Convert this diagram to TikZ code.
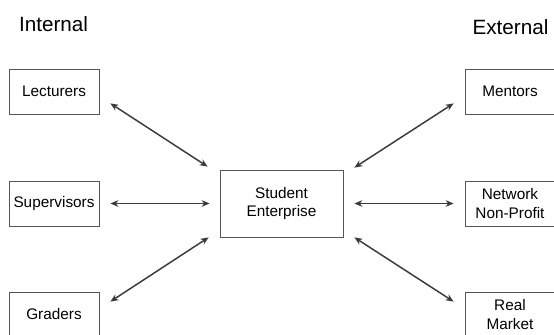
\documentclass[tikz,border=0pt]{standalone}
\usepackage{fontspec}
\setmainfont{Liberation Sans}
\usetikzlibrary{arrows.meta}

\definecolor{linegray}{RGB}{58,58,58}
\definecolor{boxgray}{RGB}{85,85,85}

\tikzset{every picture/.style={line width=0.75pt}}
\tikzset{
  actorbox/.style={draw=boxgray, line width=0.6pt, minimum width=67.5pt, minimum height=33.75pt, inner sep=0.75pt, align=center, font=\fontsize{11.5}{14}\selectfont},
  hubbox/.style={actorbox, minimum width=92.25pt, minimum height=50.25pt},
  sidelabel/.style={anchor=base, inner sep=0pt, font=\fontsize{15.5}{18}\selectfont},
  twoway/.style={draw=linegray, line width=1.1pt, {Stealth[length=6pt,width=5pt]}-{Stealth[length=6pt,width=5pt]}}
}

\begin{document}
\begin{tikzpicture}[x=0.75pt,y=0.75pt,yscale=-1,xscale=1]
	\useasboundingbox (0,0) rectangle (554,335);
	
	% Text Node
	\draw (53.5,32) node [sidelabel] (internal) {Internal};
	% Text Node
	\draw (510.5,35) node [sidelabel] (external) {External};
	
	%Shape: Rectangle [internal side]
	\draw (54,91.5) node [actorbox] (lect) {Lecturers};
	\draw (54,203.5) node [actorbox] (sup) {Supervisors};
	\draw (54,314.5) node [actorbox] (grad) {Graders};
	
	%Shape: Rectangle [centre]
	\draw (281.5,203.5) node [hubbox] (ent) {Student\\Enterprise};
	
	%Shape: Rectangle [external side]
	\draw (510,91.5) node [actorbox] (ment) {Mentors};
	\draw (510,203.5) node [actorbox] (net) {Network\\Non-Profit};
	\draw (510,314.5) node [actorbox] (real) {Real\\Market};
	
	%Straight Lines
	\draw [twoway] ([shift={(11,-11)}]lect.south east) -- ([shift={(-12,-3)}]ent.north west);
	\draw [twoway] ([shift={(11,0)}]sup.east) -- ([shift={(-10,0)}]ent.west);
	\draw [twoway] ([shift={(11,10)}]grad.north east) -- ([shift={(-11,0)}]ent.south west);
	\draw [twoway] ([shift={(11,-2)}]ent.north east) -- ([shift={(-11,-11)}]ment.south west);
	\draw [twoway] ([shift={(11,0)}]ent.east) -- ([shift={(-11,0)}]net.west);
	\draw [twoway] ([shift={(11,0)}]ent.south east) -- ([shift={(-11,10)}]real.north west);
	
\end{tikzpicture}
\end{document}
